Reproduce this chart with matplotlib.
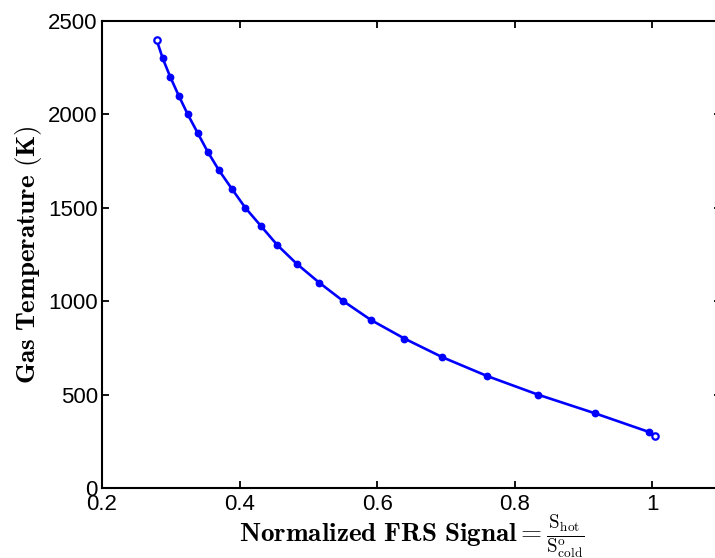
import matplotlib
matplotlib.use("Agg")
import matplotlib.pyplot as plt

# Data
signal = [0.2793, 0.2883, 0.2993, 0.3116, 0.3247, 0.3392, 0.3537, 0.3702,
          0.3891, 0.4084, 0.4317, 0.4550, 0.4832, 0.5156, 0.5510, 0.5908,
          0.6397, 0.6950, 0.7596, 0.8337, 0.9167, 0.9952, 1.0044]
temperature = [2400, 2300, 2200, 2100, 2000, 1900, 1800, 1700, 1600, 1500,
               1400, 1300, 1200, 1100, 1000, 900, 800, 700, 600, 500, 400,
               300, 276]
x_ticks = [0.2, 0.4, 0.6, 0.8, 1.0]
x_ticklabels = ["0.2", "0.4", "0.6", "0.8", "1"]
y_ticks = [0, 500, 1000, 1500, 2000, 2500]

plt.rcParams['mathtext.fontset'] = 'cm'
plt.rcParams['font.family'] = ['Liberation Sans', 'DejaVu Sans']

fig = plt.figure(figsize=(7.15, 5.58), dpi=100)
ax = fig.add_axes([102/715, 70/558, 619/715, 467/558])

blue = (0, 0, 1)
ax.plot(signal, temperature, '-', color=blue, lw=1.9)
ax.plot(signal[1:-1], temperature[1:-1], 'o', color=blue, ms=4.6, lw=0)
ax.plot([signal[0], signal[-1]], [temperature[0], temperature[-1]], 'o',
        mfc='white', mec=blue, mew=1.6, ms=4.6, lw=0)

ax.set_xlim(0.2, 1.1)
ax.set_ylim(0, 2500)
ax.set_xticks(x_ticks)
ax.set_xticklabels(x_ticklabels)
ax.set_yticks(y_ticks)

for s in ax.spines.values():
    s.set_linewidth(1.5)
ax.tick_params(direction='in', length=5, width=1.3, top=True, right=True,
               labelsize=16)
ax.tick_params(axis='x', pad=4)
ax.tick_params(axis='y', pad=3)

ax.set_xlabel(r'$\mathbf{Normalized\ FRS\ Signal} = \frac{\mathrm{S}_{\mathrm{hot}}}{\mathrm{S}^{\mathrm{o}}_{\mathrm{cold}}}$',
              fontsize=19.5, labelpad=-1.5)
ax.set_ylabel(r'$\mathbf{Gas\ Temperature\ (K)}$', fontsize=19.5, labelpad=3)

fig.savefig('out.png', dpi=100)
